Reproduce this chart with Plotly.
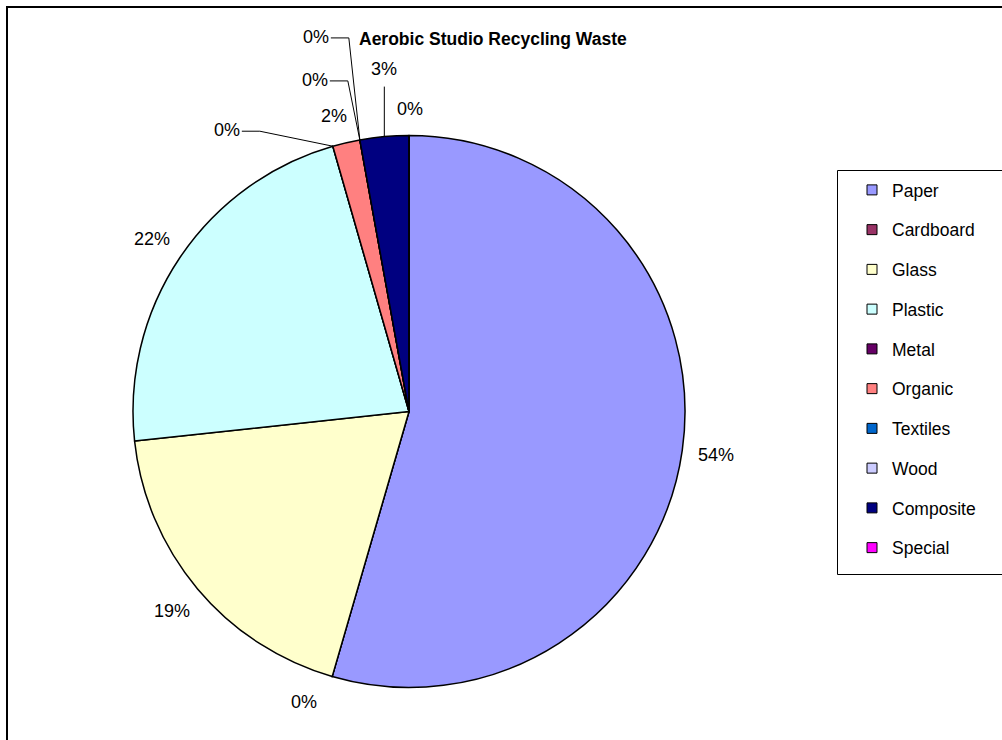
import math
import plotly.graph_objects as go

# Waste composition (share of total, %)
categories = ["Paper", "Cardboard", "Glass", "Plastic", "Metal",
              "Organic", "Textiles", "Wood", "Composite", "Special"]
shares = [54.49, 0, 18.8, 22.26, 0, 1.6, 0, 0, 2.85, 0]
colors = ["#9999FF", "#993366", "#FFFFCC", "#CCFFFF", "#660066",
          "#FF8080", "#0066CC", "#CCCCFF", "#000080", "#FF00FF"]
title_text = "Aerobic Studio Recycling Waste"

W, H = 1002, 740
CX, CY, R = 409, 411.5, 276          # pie centre and radius in px
LABEL_R = 310                        # default distance of value labels from centre
FONT = "Liberation Sans, Arial, sans-serif"
LABEL_SIZE = 18

# label placement: anchor on the slice middle ("mid") or the slice edge ("edge"),
# pixel offset from that anchor, and leader-line style
label_style = {
    "Paper":     dict(anchor="mid", r=LABEL_R, offset=(0, 0), leader=None),
    "Cardboard": dict(anchor="edge", r=R, offset=(-28, 25), leader=None),
    "Glass":     dict(anchor="mid", r=LABEL_R, offset=(0, 0), leader=None),
    "Plastic":   dict(anchor="mid", r=LABEL_R, offset=(0, 0), leader=None),
    "Metal":     dict(anchor="edge", r=R, offset=(-106, -16), leader="elbow"),
    "Organic":   dict(anchor="mid", r=LABEL_R, offset=(-5, 6), leader=None),
    "Textiles":  dict(anchor="edge", r=R, offset=(-45, -60), leader="elbow"),
    "Wood":      dict(anchor="edge", r=R, offset=(-44, -103), leader="elbow"),
    "Composite": dict(anchor="mid", r=R, offset=(0, -68), leader="drop"),
    "Special":   dict(anchor="edge", r=R, offset=(1, -27), leader=None),
}


def px_to_paper(x, y):
    return x / W, 1 - y / H


def polar(frac, r):
    """Point at a fraction of the full turn (clockwise from 12 o'clock)."""
    a = 2 * math.pi * frac
    return CX + r * math.sin(a), CY - r * math.cos(a)


total = sum(shares)

fig = go.Figure()

fig.add_trace(go.Pie(
    labels=categories,
    values=shares,
    sort=False,
    direction="clockwise",
    rotation=0,
    marker=dict(colors=colors, line=dict(color="#000000", width=1.5)),
    textinfo="none",
    hoverinfo="label+percent",
    showlegend=False,
    domain=dict(x=[(CX - R) / W, (CX + R) / W],
                y=[1 - (CY + R) / H, 1 - (CY - R) / H]),
))

# legend entries, one per category
for cat, col in zip(categories, colors):
    fig.add_trace(go.Scatter(
        x=[None], y=[None], mode="markers", name=cat, legendgroup=cat,
        marker=dict(symbol="square", size=10, color=col,
                    line=dict(color="#000000", width=1)),
        showlegend=True, hoverinfo="skip",
    ))

annotations = []
shapes = []

# value labels with leader lines
cum = 0.0
for cat, v in zip(categories, shares):
    st = label_style[cat]
    start = cum / total
    frac = v / total
    cum += v
    if st["anchor"] == "mid":
        ax, ay = polar(start + frac / 2, st["r"])
        rim = polar(start + frac / 2, R)
    else:
        ax, ay = polar(start, st["r"])
        rim = polar(start, R)
    lx, ly = ax + st["offset"][0], ay + st["offset"][1]
    px, py = px_to_paper(lx, ly)
    annotations.append(dict(
        x=px, y=py, xref="paper", yref="paper", xanchor="center", yanchor="middle",
        text=f"{round(frac * 100)}%", showarrow=False,
        font=dict(family=FONT, size=LABEL_SIZE, color="#000000"),
    ))
    if st["leader"] == "elbow":
        pts = [(lx + 15, ly + 1), (lx + 33, ly + 1), rim]
    elif st["leader"] == "drop":
        pts = [(rim[0], ly + 18), rim]
    else:
        pts = []
    for (x0, y0), (x1, y1) in zip(pts[:-1], pts[1:]):
        a0, b0 = px_to_paper(x0, y0)
        a1, b1 = px_to_paper(x1, y1)
        shapes.append(dict(type="line", xref="paper", yref="paper",
                           x0=a0, y0=b0, x1=a1, y1=b1,
                           line=dict(color="#000000", width=1)))

# chart title
tx, ty = px_to_paper(357, 39)
annotations.append(dict(
    x=tx, y=ty, xref="paper", yref="paper", xanchor="left", yanchor="middle",
    text=f"<b>{title_text}</b>", showarrow=False,
    font=dict(family=FONT, size=17.5, color="#000000"),
))

# chart-area frame
x0, y0 = px_to_paper(7, 7)
shapes.append(dict(type="rect", xref="paper", yref="paper", layer="below",
                   x0=x0, y0=y0, x1=1.05, y1=-0.05,
                   line=dict(color="#000000", width=2), fillcolor="#FFFFFF"))

# legend frame
lx0, ly0 = px_to_paper(837.5, 170.5)
lx1, ly1 = px_to_paper(W + 10, 574.5)
shapes.append(dict(type="rect", xref="paper", yref="paper", layer="below",
                   x0=lx0, y0=ly0, x1=lx1, y1=ly1,
                   line=dict(color="#000000", width=1), fillcolor="#FFFFFF"))

leg_x, leg_y = px_to_paper(852, 172)

fig.update_layout(
    width=W, height=H,
    margin=dict(l=0, r=0, t=0, b=0),
    paper_bgcolor="#FFFFFF",
    plot_bgcolor="rgba(0,0,0,0)",
    xaxis=dict(visible=False),
    yaxis=dict(visible=False),
    annotations=annotations,
    shapes=shapes,
    showlegend=True,
    legend=dict(
        x=leg_x, y=leg_y, xanchor="left", yanchor="top",
        bgcolor="rgba(0,0,0,0)", borderwidth=0,
        font=dict(family=FONT, size=17.5, color="#000000"),
        tracegroupgap=14, itemclick=False, itemdoubleclick=False,
    ),
)

fig.write_html("out.html", config={"displayModeBar": False})
